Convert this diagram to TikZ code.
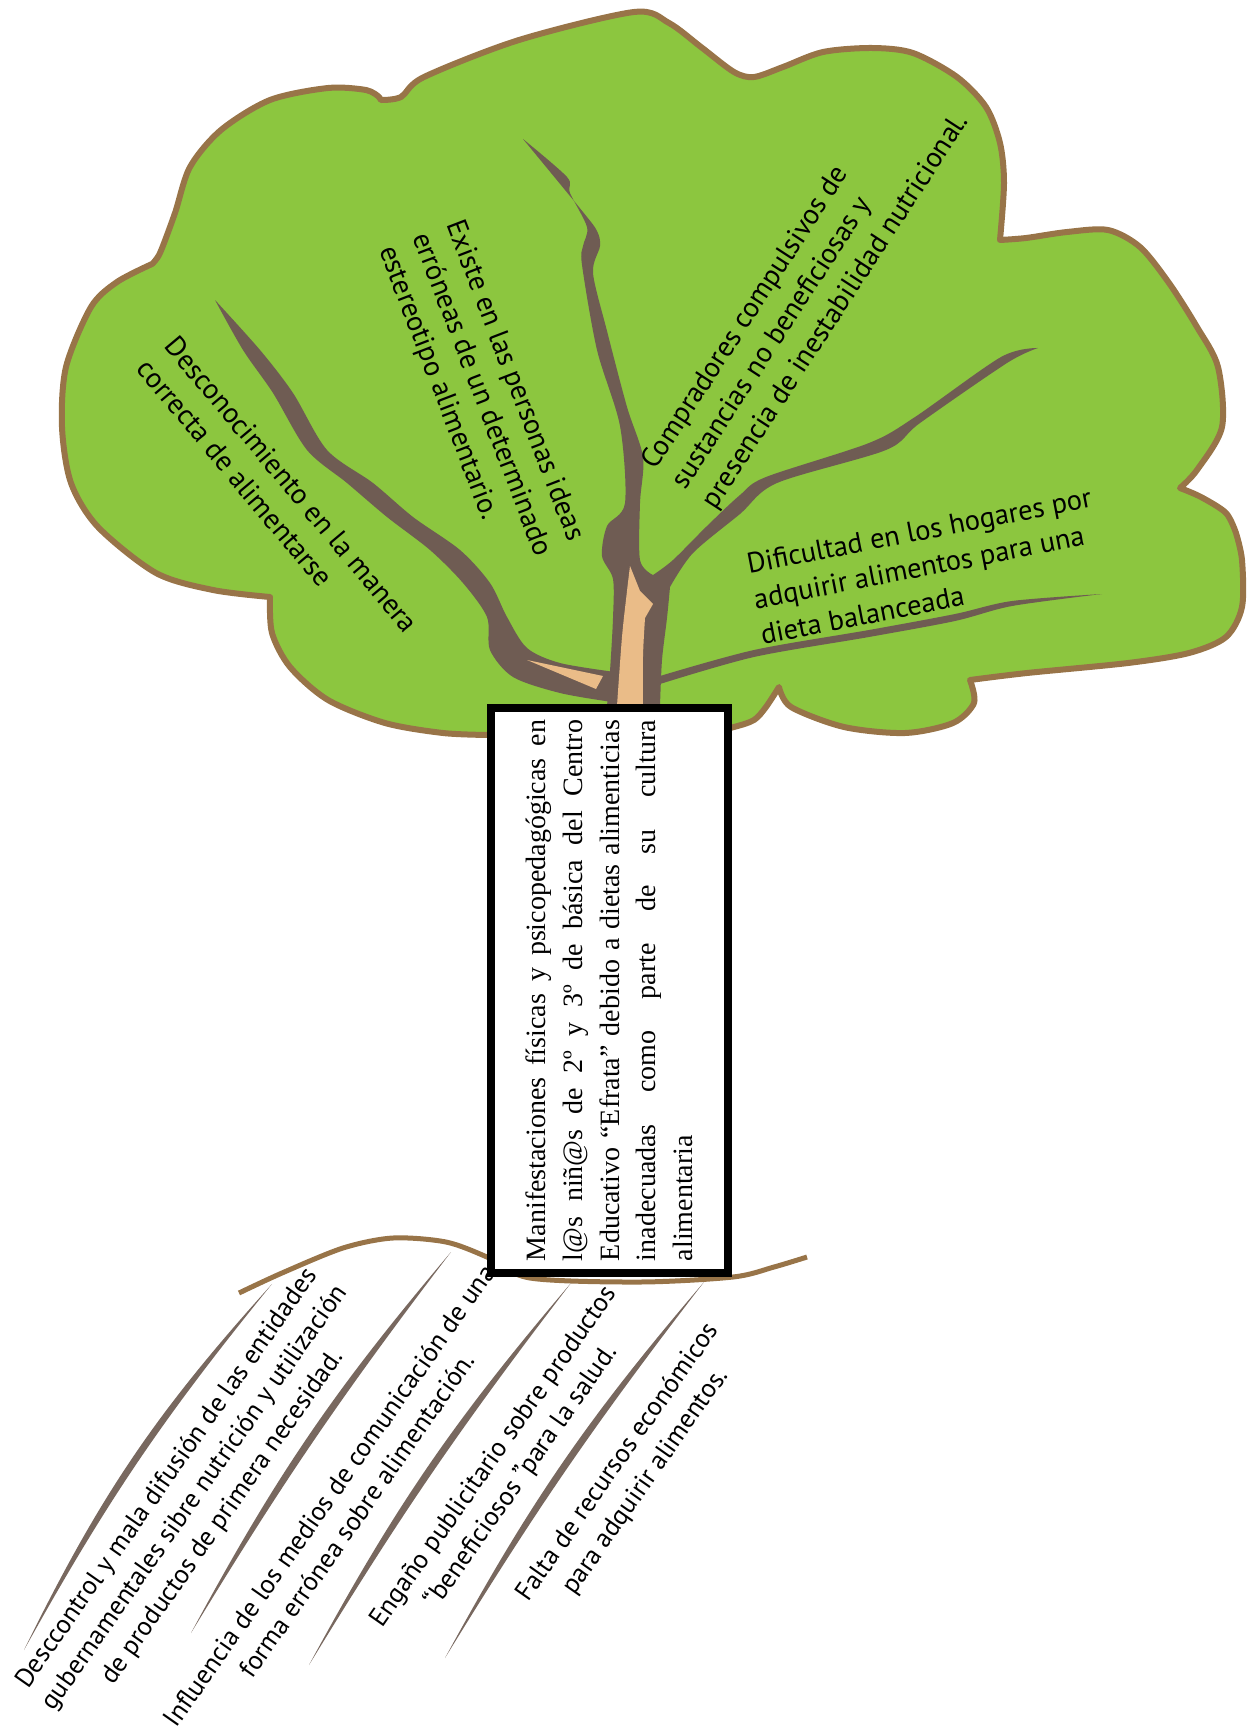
\documentclass[tikz,border=0pt]{standalone}
\usepackage{fontspec}
\setmainfont{Liberation Serif}
\newfontfamily\leaffont{PT Sans}
\usepackage{xcolor}
\usepackage{tikz}

\definecolor{leafgreen}{RGB}{140,198,63}
\definecolor{leafedge}{RGB}{152,116,72}
\definecolor{bark}{RGB}{111,92,83}
\definecolor{sapwood}{RGB}{234,188,136}
\definecolor{rootcol}{RGB}{120,104,95}

\tikzstyle{crown} = [fill=leafgreen, draw=leafedge, line width=6pt, line join=round]
\tikzstyle{branch} = [fill=bark]
\tikzstyle{ground} = [draw=leafedge, line width=5pt]
\tikzstyle{leaftext} = [inner sep=0pt, align=left, font=\leaffont\fontsize{28.5}{36}\selectfont]
\tikzstyle{roottext} = [inner sep=0pt, align=center, rotate=55, font=\leaffont\fontsize{26.5}{34}\selectfont]

\begin{document}
\begin{tikzpicture}[x=1pt, y=-1pt,
    problem/.style={draw, line width=8pt, fill=white, rotate=90, minimum width=565pt,
      minimum height=237pt, text width=541pt, inner xsep=12pt, align=justify,
      font=\fontsize{28}{36.7}\selectfont}]

    \useasboundingbox (0,0) rectangle (1257,1731);

    % Crown
    \draw[crown] plot[smooth] coordinates {(489,735) (443,733) (385,723) (328,700) (290,667) (272,633) (270,597)}
      -- plot[smooth] coordinates {(270,597) (213,590) (156,573) (98,527) (71,483) (62,427) (66,367) (91,307) (117,282) (152,264)}
      -- plot[smooth] coordinates {(152,264) (160,253) (175,213) (190,167) (221,130) (270,100) (328,88) (366,90) (379,97)}
      -- plot[smooth] coordinates {(381,100) (401,97) (424,77) (519,40) (634,12) (669,23) (701,47) (734,72) (754,77) (783,67) (823,52) (872,48) (913,53) (957,77) (986,107) (1000,143) (1004,183) (1000,240)}
      -- plot[smooth] coordinates {(1000,240) (1026,238) (1067,232) (1108,230) (1140,247) (1169,283) (1197,327) (1218,367) (1222,427) (1197,470) (1180,488)}
      -- plot[smooth] coordinates {(1180,488) (1201,497) (1226,513) (1236,533)}
      -- plot[smooth] coordinates {(1236,533) (1242,560) (1242,607) (1226,637) (1189,653) (1128,663) (1027,673) (970,680)}
      -- plot[smooth] coordinates {(970,680) (974,703) (953,723) (905,733) (844,727) (791,707) (779,687)}
      -- plot[smooth] coordinates {(779,687) (766,707) (754,720) (734,727) (700,735)} -- cycle;

    % Trunk, middle branch and right branch
    \fill[branch] plot[smooth] coordinates {(607,706) (610,671) (613,618) (613,579) (602,556) (607,526) (625,503) (620,426) (597,350) (582,265) (583,246) (587,227) (570,193) (567,177) (523,139)}
      -- plot[smooth] coordinates {(523,139) (583,212) (597,231) (600,246) (593,273) (607,331) (627,407) (643,457) (640,503) (640,560) (653,575)}
      -- plot[smooth] coordinates {(653,575) (673,560) (707,526) (740,495) (766,477) (869,443) (915,417) (1001,357) (1038,348)}
      -- plot[smooth] coordinates {(1038,348) (1007,363) (920,423) (886,450) (777,483) (740,514) (693,553) (670,587)}
      -- plot[smooth] coordinates {(670,587) (667,618) (662,660) (660,706)} -- cycle;
    % Left branch
    \fill[branch] plot[smooth] coordinates {(215,300) (243,350) (273,393) (307,450) (347,483) (387,517) (430,550) (463,583) (487,617) (490,650) (513,677) (560,693) (612,702)}
      -- plot[smooth] coordinates {(615,672) (560,663) (527,648) (507,617) (490,583) (460,550) (413,517) (373,483) (327,450) (293,393) (260,350) (215,300)} -- cycle;
    % Thin branch under the right text
    \fill[branch] plot[smooth] coordinates {(660,676) (754,650) (869,630) (955,614) (1012,601) (1102,594)}
      -- plot[smooth] coordinates {(1102,594) (1012,606) (955,621) (869,637) (754,657) (660,684)} -- cycle;
    % Light wood
    \fill[sapwood] (527,660) -- (603,676) -- (596,689) -- cycle;
    \fill[sapwood] plot[smooth] coordinates {(617,706) (622,637) (627,591) (630,566)}
      -- (640,591) -- (653,604) -- (645,618) -- plot[smooth] coordinates {(645,618) (643,656) (643,706)} -- cycle;

    % Effects
    \node[leaftext, rotate=-50] (effect1) at (278,496) {Desconocimiento en la manera\\correcta de alimentarse};
    \node[leaftext, rotate=-69] (effect2) at (481,395) {Existe en las personas ideas\\erróneas de un determinado\\estereotipo alimentario.};
    \node[leaftext, rotate=57] (effect3) at (806,292) {Compradores compulsivos de\\sustancias no beneficiosas y\\presencia de inestabilidad nutricional.};
    \node[leaftext, rotate=11] (effect4) at (926,566) {Dificultad en los hogares por\\adquirir alimentos para una\\dieta balanceada};

    % Ground and roots
    \draw[ground] plot[smooth] coordinates {(239,1293) (282,1273) (343,1248) (393,1238) (446,1242) (487,1257) (530,1278) (640,1282) (733,1277) (774,1267) (807,1257)};
    \fill[rootcol] (272,1284) to[bend right=8] (24,1650) to[bend left=5] (272,1284);
    \fill[rootcol] (451,1252) to[bend right=6] (191,1633) to[bend left=3] (451,1252);
    \fill[rootcol] (571,1283) to[bend right=6] (309,1665) to[bend left=3] (571,1283);
    \fill[rootcol] (704,1282) to[bend right=6] (445,1658) to[bend left=3] (704,1282);

    % Causes
    \node[roottext] (cause1) at (195,1498) {Desccontrol y mala difusión de las entidades\\gubernamentales sibre nutrición y utilización\\de productos de primera necesidad.};
    \node[roottext] (cause2) at (343,1505) {Influencia de los medios de comunicación de una\\forma errónea sobre alimentación.};
    \node[roottext] (cause3) at (508,1467) {Engaño publicitario sobre productos\\“beneficiosos ”para la salud.};
    \node[roottext] (cause4) at (632,1472) {Falta de recursos económicos\\para adquirir alimentos.};

    % Central problem
    \node[problem] (problem) at (609.5,990.5) {Manifestaciones físicas y psicopedagógicas en\linebreak
      l@s niñ@s de 2º y 3º de básica del Centro\linebreak
      Educativo “Efrata” debido a dietas alimenticias\linebreak
      inadecuadas como parte de su cultura\linebreak
      alimentaria};
\end{tikzpicture}
\end{document}
